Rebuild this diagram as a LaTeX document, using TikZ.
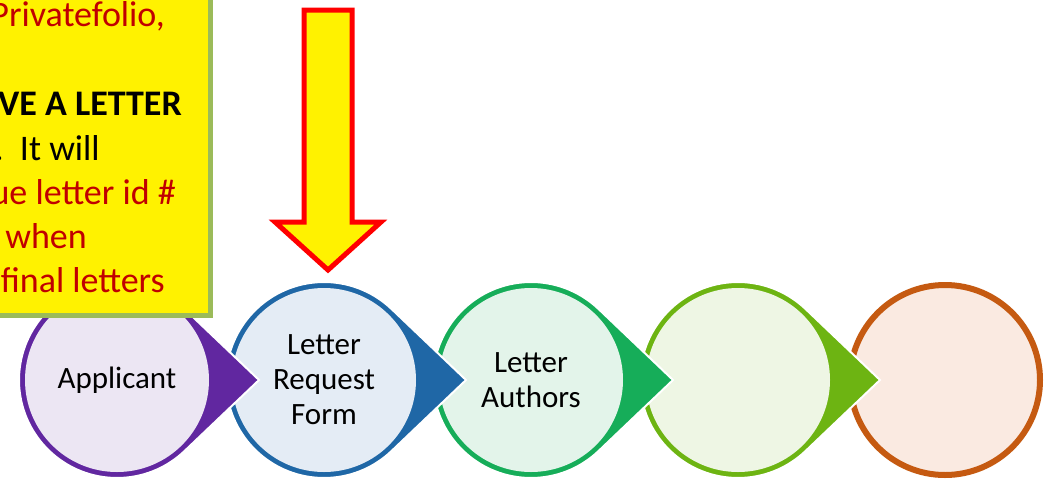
\documentclass[tikz,border=0pt]{standalone}
\usepackage{fontspec}
\setmainfont{Carlito}
\usepackage{xcolor}

\definecolor{notered}{HTML}{C00000}
\definecolor{noteedge}{HTML}{9BBB59}
\definecolor{purpleD}{HTML}{6127A0}
\definecolor{purpleL}{HTML}{ECE6F3}
\definecolor{blueD}{HTML}{1F67A6}
\definecolor{blueL}{HTML}{E4ECF5}
\definecolor{greenD}{HTML}{16AD59}
\definecolor{greenL}{HTML}{E3F4EA}
\definecolor{limeD}{HTML}{6DB412}
\definecolor{limeL}{HTML}{EEF6E4}
\definecolor{orangeD}{HTML}{C55A11}
\definecolor{orangeL}{HTML}{FAEAE1}

\newcommand\stepfont{\fontsize{31}{35}\selectfont}
\newcommand\notefont{\fontsize{36}{44}\selectfont}

\begin{document}
\begin{tikzpicture}[
    x=1pt, y=-1pt,
    every node/.style={align=center, inner sep=0pt},
    disc/.style={circle, minimum size=184pt, font=\stepfont},
    lastdisc/.style={circle, minimum size=190pt, line width=6pt, font=\stepfont},
    tabshape/.style={draw=white, line width=2pt},
    notebox/.style={rectangle, fill=yellow, draw=noteedge, line width=5pt, minimum width=400pt, minimum height=400pt},
    noteline/.style={anchor=base east, font=\notefont, text=notered},
    bigarrow/.style={fill=yellow, draw=red, line width=5pt, line join=miter}
]
\useasboundingbox (0,0) rectangle (1053,480);
\clip (0,0) rectangle (1053,480);

% steps, right to left so each tab lies on the next circle
\node[lastdisc, draw=orangeD, fill=orangeL] (fifth) at (945,380) {};

\filldraw[fill=limeD, tabshape] (738,380) ++(46.4:98pt) arc[start angle=46.4, end angle=313.6, radius=98pt] -- (880,380) -- cycle;
\node[disc, fill=limeL] (fourth) at (738,380) {};

\filldraw[fill=greenD, tabshape] (531,380) ++(46.4:98pt) arc[start angle=46.4, end angle=313.6, radius=98pt] -- (673,380) -- cycle;
\node[disc, fill=greenL] (authors) at (531,380) {Letter\\Authors};

\filldraw[fill=blueD, tabshape] (324,380) ++(46.4:98pt) arc[start angle=46.4, end angle=313.6, radius=98pt] -- (466,380) -- cycle;
\node[disc, fill=blueL] (request) at (324,380) {Letter\\Request\\Form};

\filldraw[fill=purpleD, tabshape] (117,380) ++(46.4:98pt) arc[start angle=46.4, end angle=313.6, radius=98pt] -- (259,380) -- cycle;
\node[disc, fill=purpleL] (applicant) at (117,380) {Applicant};

% note box
\node[notebox, anchor=south east] (note) at (213,318) {};
\node[noteline] (l1) at (165,26) {Privatefolio,};
\node[noteline, text=black, font=\notefont\bfseries] (l3) at (182,115) {VE A LETTER};
\node[noteline, text=black] (l4) at (100,160) {.\ \ It will};
\node[noteline] (l5) at (176,204) {ue letter id \#};
\node[noteline] (l6) at (87,248) {when};
\node[noteline] (l7) at (165,292) {final letters};

% pointer onto the request form
\draw[bigarrow] (304,10) -- (352,10) -- (352,222) -- (381,222) -- (328,270)
    -- (275,222) -- (304,222) -- cycle;

\end{tikzpicture}
\end{document}
